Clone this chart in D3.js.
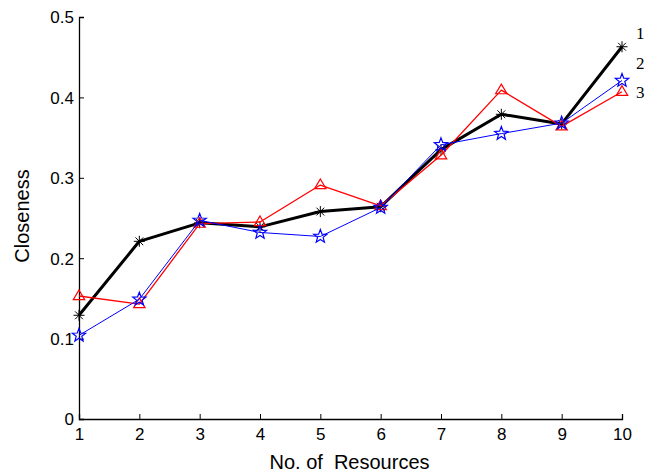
<!DOCTYPE html>
<html>
<head>
<meta charset="utf-8">
<script src="https://d3js.org/d3.v7.min.js"></script>
<style>
  body { margin: 0; background: #fff; }
  text { font-family: Arial, "Liberation Sans", sans-serif; }
</style>
</head>
<body>
<div id="chart"></div>
<script>
// Data
var resources = [1, 2, 3, 4, 5, 6, 7, 8, 9, 10];
var series1 = [0.129, 0.221, 0.244, 0.239, 0.258, 0.264, 0.335, 0.379, 0.367, 0.463];
var series2 = [0.104, 0.149, 0.247, 0.232, 0.227, 0.263, 0.341, 0.355, 0.368, 0.421];
var series3 = [0.153, 0.143, 0.243, 0.245, 0.291, 0.265, 0.328, 0.409, 0.364, 0.407];
var seriesNames = ["1", "2", "3"];
var yTicks = [0, 0.1, 0.2, 0.3, 0.4, 0.5];

var svgWidth = 651;
var svgHeight = 474;
var margin = { top: 17, right: 29, bottom: 55, left: 79 };
var chartWidth = svgWidth - margin.left - margin.right;
var chartHeight = svgHeight - margin.top - margin.bottom;

var svg = d3.select("#chart").append("svg")
    .attr("width", svgWidth)
    .attr("height", svgHeight);

var chartGrp = svg.append("g")
    .attr("transform", `translate(${margin.left}, ${margin.top})`);

var xScale = d3.scaleLinear().domain([1, 10]).range([0, chartWidth]);
var yScale = d3.scaleLinear().domain([0, 0.5]).range([chartHeight, 0]);

// Axes, ticks pointing inward
var xAxis = chartGrp.append("g")
    .attr("transform", `translate(0, ${chartHeight})`)
    .call(d3.axisBottom(xScale).tickValues(resources).tickSize(-5).tickPadding(9).tickFormat(d3.format("d")));

var yAxis = chartGrp.append("g")
    .call(d3.axisLeft(yScale).tickValues(yTicks).tickSize(-5).tickPadding(5).tickFormat(d => d === 0 ? "0" : d3.format(".1f")(d)));

[xAxis, yAxis].forEach(function(ax) {
    ax.select(".domain").attr("stroke", "#000").attr("stroke-width", 1.3);
    ax.selectAll(".tick line").attr("stroke", "#000").attr("stroke-width", 1);
    ax.selectAll(".tick text").attr("fill", "#000").style("font-size", "17px")
        .style("font-family", "Arial, 'Liberation Sans', sans-serif");
});
yAxis.selectAll(".tick text").attr("dy", "0.35em");

// Marker paths
function asteriskPath(r) {
    var p = "";
    for (var i = 0; i < 4; i++) {
        var a = i * Math.PI / 4;
        p += `M${-r * Math.cos(a)},${-r * Math.sin(a)}L${r * Math.cos(a)},${r * Math.sin(a)}`;
    }
    return p;
}
function starPath(r) {
    var pts = [];
    for (var i = 0; i < 10; i++) {
        var rr = i % 2 === 0 ? r : r * 0.42;
        var a = -Math.PI / 2 + i * Math.PI / 5;
        pts.push([rr * Math.cos(a), rr * Math.sin(a)]);
    }
    return "M" + pts.map(p => p.join(",")).join("L") + "Z";
}
function trianglePath(r) {
    return `M0,${-r}L${r * 0.95},${r * 0.6}L${-r * 0.95},${r * 0.6}Z`;
}

var line = d3.line()
    .x((d, i) => xScale(resources[i]))
    .y(d => yScale(d));

var seriesList = [
    { values: series1, color: "#000000", width: 3, marker: asteriskPath(5.5), markerWidth: 1 },
    { values: series3, color: "#ff0000", width: 1.3, marker: trianglePath(6), markerWidth: 1.2 },
    { values: series2, color: "#0000ff", width: 1, marker: starPath(7), markerWidth: 1.2 }
];

seriesList.forEach(function(s) {
    chartGrp.append("path")
        .datum(s.values)
        .attr("d", line)
        .attr("fill", "none")
        .attr("stroke", s.color)
        .attr("stroke-width", s.width)
        .attr("stroke-linejoin", "round");

    chartGrp.selectAll(null).data(s.values).enter().append("path")
        .attr("transform", (d, i) => `translate(${xScale(resources[i])}, ${yScale(d)})`)
        .attr("d", s.marker)
        .attr("fill", "none")
        .attr("stroke", s.color)
        .attr("stroke-width", s.markerWidth);
});

// Series labels at the right end
var labelY = [33, 63, 92];
svg.selectAll(".seriesLabel").data(seriesNames).enter().append("text")
    .attr("x", 636)
    .attr("y", (d, i) => labelY[i])
    .attr("dy", "0.35em")
    .style("font-family", "'Liberation Serif', 'Times New Roman', serif")
    .style("font-size", "17px")
    .text(d => d);

// Axis titles
svg.append("text")
    .attr("x", margin.left + chartWidth / 2 - 1)
    .attr("y", 469)
    .attr("text-anchor", "middle")
    .style("font-size", "20px")
    .style("white-space", "pre")
    .text("No. of  Resources");

svg.append("text")
    .attr("transform", `translate(29, ${margin.top + chartHeight / 2 - 2}) rotate(-90)`)
    .attr("text-anchor", "middle")
    .style("font-size", "20px")
    .text("Closeness");
</script>
</body>
</html>
